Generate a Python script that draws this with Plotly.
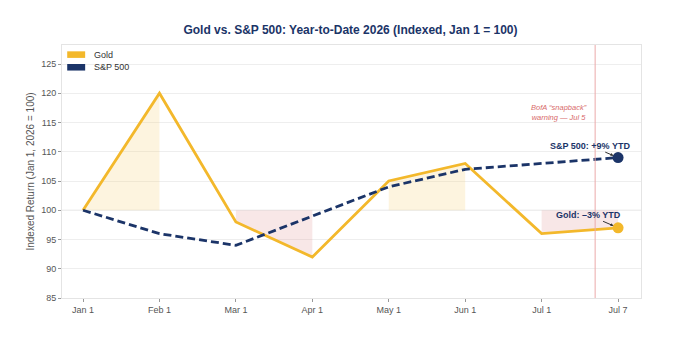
import plotly.graph_objects as go

# ---- data ----
dates = ["Jan 1", "Feb 1", "Mar 1", "Apr 1", "May 1", "Jun 1", "Jul 1", "Jul 7"]
gold = [100, 120, 98, 92, 105, 108, 96, 97]
spx = [100, 96, 94, 99, 104, 107, 108, 109]
base = 100
# shaded spans (start index, end index, kind)
spans = [(0, 1, "up"), (2, 3, "down"), (4, 5, "up"), (6, 7, "down")]
warn_pos = 6.7  # Jul 5 between Jul 1 and Jul 7
warn_text = "BofA \u201csnapback\u201d<br>warning \u2014 Jul 5"
y_ticks = [85, 90, 95, 100, 105, 110, 115, 120, 125]

GOLD = "#F3B82B"
NAVY = "#1B3468"
FILL_UP = "rgba(247,215,140,0.28)"
FILL_DN = "rgba(226,160,160,0.25)"
FONT = "Liberation Sans"

xs = list(range(len(dates)))
fig = go.Figure()

for i0, i1, kind in spans:
    px = [xs[i0]] + xs[i0:i1 + 1] + [xs[i1]]
    py = [base] + gold[i0:i1 + 1] + [base]
    fig.add_trace(go.Scatter(x=px, y=py, mode="lines", fill="toself",
                             fillcolor=FILL_UP if kind == "up" else FILL_DN,
                             line=dict(width=0), hoverinfo="skip", showlegend=False))

fig.add_trace(go.Scatter(x=xs, y=gold, mode="lines", name="Gold",
                         line=dict(color=GOLD, width=2.8), showlegend=False))
fig.add_trace(go.Scatter(x=xs, y=spx, mode="lines", name="S&P 500",
                         line=dict(color=NAVY, width=2.8, dash="8px,4px"), showlegend=False))
fig.add_trace(go.Scatter(x=[xs[-1]], y=[spx[-1]], mode="markers",
                         marker=dict(color=NAVY, size=11), showlegend=False))
fig.add_trace(go.Scatter(x=[xs[-1]], y=[gold[-1]], mode="markers",
                         marker=dict(color=GOLD, size=11), showlegend=False))

# baseline and warning line
fig.add_shape(type="line", xref="paper", x0=0, x1=1, y0=base, y1=base,
              line=dict(color="#dcdcdc", width=1), layer="below")
fig.add_shape(type="line", xref="x", yref="paper", x0=warn_pos, x1=warn_pos, y0=0, y1=1,
              line=dict(color="#EBA9A9", width=1))

fig.add_annotation(x=warn_pos - 0.08, y=116.7, text=warn_text, showarrow=False,
                   xanchor="right", align="center",
                   font=dict(family=FONT, size=7.5, color="#D86A6A", style="italic"))

fig.add_annotation(x=xs[-1], y=spx[-1], ax=-28, ay=-12, text="<b>S&P 500: +9% YTD</b>",
                   showarrow=True, arrowhead=2, arrowsize=0.6, arrowwidth=1, arrowcolor="#333",
                   standoff=5, font=dict(family=FONT, size=9, color=NAVY))
fig.add_annotation(x=xs[-1], y=gold[-1], ax=-30, ay=-13, text="<b>Gold: \u20133% YTD</b>",
                   showarrow=True, arrowhead=2, arrowsize=0.6, arrowwidth=1, arrowcolor="#333",
                   standoff=5, font=dict(family=FONT, size=9, color=NAVY))

# manual legend
legend_items = [("Gold", GOLD), ("S&P 500", NAVY)]
for k, (lab, col) in enumerate(legend_items):
    yc = 0.962 - k * 0.05
    fig.add_shape(type="rect", xref="paper", yref="paper", x0=0.009, x1=0.04,
                  y0=yc - 0.013, y1=yc + 0.013, fillcolor=col, line=dict(width=0))
    fig.add_annotation(xref="paper", yref="paper", x=0.052, y=yc, text=lab, showarrow=False,
                       xanchor="left", yanchor="middle",
                       font=dict(family=FONT, size=9, color="#333"))

fig.update_layout(
    width=674, height=338,
    margin=dict(l=62, r=33, t=45, b=40),
    paper_bgcolor="white", plot_bgcolor="white",
    title=dict(text="<b>Gold vs. S&P 500: Year-to-Date 2026 (Indexed, Jan 1 = 100)</b>",
               x=0.52, xanchor="center", y=1 - 30 / 338, yanchor="middle",
               font=dict(family=FONT, size=12, color=NAVY)),
    font=dict(family=FONT, size=9, color="#555"),
)
fig.update_xaxes(range=[-0.275, 7.3], tickvals=xs, ticktext=dates, showgrid=False,
                 ticks="outside", ticklen=3, tickcolor="#999", showline=True,
                 linecolor="#e4e4e4", mirror=True, zeroline=False,
                 tickfont=dict(family=FONT, size=9, color="#555"))
fig.update_yaxes(range=[85, 128.25], tickvals=y_ticks, showgrid=True, gridcolor="#eeeeee",
                 ticks="outside", ticklen=3, tickcolor="#999", showline=True,
                 linecolor="#e4e4e4", mirror=True, zeroline=False,
                 title=dict(text="Indexed Return (Jan 1, 2026 = 100)", standoff=4,
                            font=dict(family=FONT, size=10, color="#555")),
                 tickfont=dict(family=FONT, size=9, color="#555"))

fig.write_html("out.html")
